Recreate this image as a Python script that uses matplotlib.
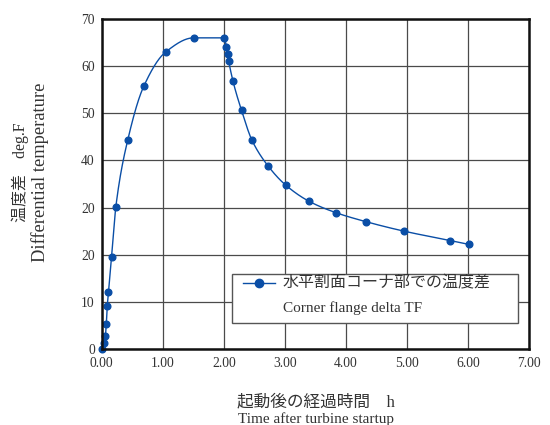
import numpy as np
import matplotlib
matplotlib.use("Agg")
import matplotlib.pyplot as plt
from matplotlib.patches import Rectangle
from matplotlib.lines import Line2D

plt.rcParams['font.family'] = ['Liberation Serif', 'Noto Sans CJK JP', 'DejaVu Sans']

# Data
time_h = [0.00, 0.04, 0.06, 0.075, 0.09, 0.11, 0.16, 0.23, 0.425, 0.687, 1.047, 1.505,
          2.01, 2.04, 2.06, 2.08, 2.15, 2.29, 2.46, 2.72, 3.01, 3.40, 3.84, 4.33,
          4.95, 5.71, 6.01]
delta_t = [0.0, 1.2, 2.8, 5.4, 9.1, 12.0, 19.5, 30.1, 44.3, 55.7, 63.0, 66.0,
           66.0, 64.1, 62.5, 61.0, 56.8, 50.6, 44.3, 38.9, 34.8, 31.3, 28.9, 27.0,
           25.0, 23.0, 22.2]
x_ticks = [0, 1, 2, 3, 4, 5, 6, 7]
x_tick_labels = ["0.00", "1.00", "2.00", "3.00", "4.00", "5.00", "6.00", "7.00"]
y_ticks = [0, 10, 20, 30, 40, 50, 60, 70]
y_tick_labels = ["0", "10", "20", "20", "40", "50", "60", "70"]
series_label_jp = "水平割面コーナ部での温度差"
series_label_en = "Corner flange delta TF"

color = "#0a4ea6"


def pchip(x, y, xn):
    x = np.asarray(x, float); y = np.asarray(y, float)
    h = np.diff(x); d = np.diff(y) / h
    n = len(x)
    m = np.zeros(n)
    for k in range(1, n - 1):
        if d[k - 1] * d[k] <= 0:
            m[k] = 0.0
        else:
            w1 = 2 * h[k] + h[k - 1]; w2 = h[k] + 2 * h[k - 1]
            m[k] = (w1 + w2) / (w1 / d[k - 1] + w2 / d[k])
    m[0] = d[0]; m[-1] = d[-1]
    idx = np.clip(np.searchsorted(x, xn) - 1, 0, n - 2)
    hk = h[idx]; t = (xn - x[idx]) / hk
    h00 = 2 * t**3 - 3 * t**2 + 1; h10 = t**3 - 2 * t**2 + t
    h01 = -2 * t**3 + 3 * t**2; h11 = t**3 - t**2
    return h00 * y[idx] + h10 * hk * m[idx] + h01 * y[idx + 1] + h11 * hk * m[idx + 1]


fig = plt.figure(figsize=(5.5, 4.25), dpi=100)
ax = fig.add_axes([0.185, 0.1788, 0.777, 0.7765])

xs = np.linspace(time_h[0], time_h[-1], 1500)
ax.plot(xs, pchip(time_h, delta_t, xs), color=color, lw=1.0, zorder=3)
ax.plot(time_h, delta_t, 'o', color=color, ms=4.8, ls='none', zorder=4, clip_on=False)

ax.set_xlim(0, 7)
ax.set_ylim(0, 70)
ax.set_xticks(x_ticks)
ax.set_xticklabels(x_tick_labels)
ax.set_yticks(y_ticks)
ax.set_yticklabels(y_tick_labels)
ax.tick_params(length=0, labelsize=9.8, colors="#333333")
ax.tick_params(axis='x', pad=6)
ax.tick_params(axis='y', pad=5)
ax.grid(True, color="#4a4a4a", lw=0.9, zorder=1)
ax.set_axisbelow(True)
for s in ax.spines.values():
    s.set_color("#111111")
    s.set_linewidth(1.8)
    s.set_zorder(5)

# Legend box (drawn manually to match layout)
ax.add_patch(Rectangle((0.305, 0.079), 0.669, 0.148, transform=ax.transAxes,
                       facecolor="white", edgecolor="#555555", lw=1.0, zorder=6))
ax.add_line(Line2D([0.331, 0.405], [0.2, 0.2], transform=ax.transAxes,
                   color=color, lw=1.0, zorder=7))
ax.add_line(Line2D([0.368], [0.2], transform=ax.transAxes, marker='o', ms=6,
                   color=color, ls='none', zorder=7))
ax.text(0.424, 0.198, series_label_jp, transform=ax.transAxes, fontsize=11.5,
        va='center', ha='left', color="#333333", zorder=7)
ax.text(0.424, 0.124, series_label_en, transform=ax.transAxes, fontsize=11,
        va='center', ha='left', color="#333333", zorder=7)

# Axis titles
fig.text(0.037, 0.595, "温度差　deg.F", rotation=90, ha='center', va='center',
         fontsize=11.5, color="#333333")
fig.text(0.073, 0.595, "Differential temperature", rotation=90, ha='center',
         va='center', fontsize=13.3, color="#333333")
fig.text(0.574, 0.054, "起動後の経過時間　h", ha='center', va='center',
         fontsize=12, color="#333333")
fig.text(0.574, 0.014, "Time after turbine startup", ha='center', va='center',
         fontsize=11, color="#333333")

fig.savefig("out.png", dpi=100)
